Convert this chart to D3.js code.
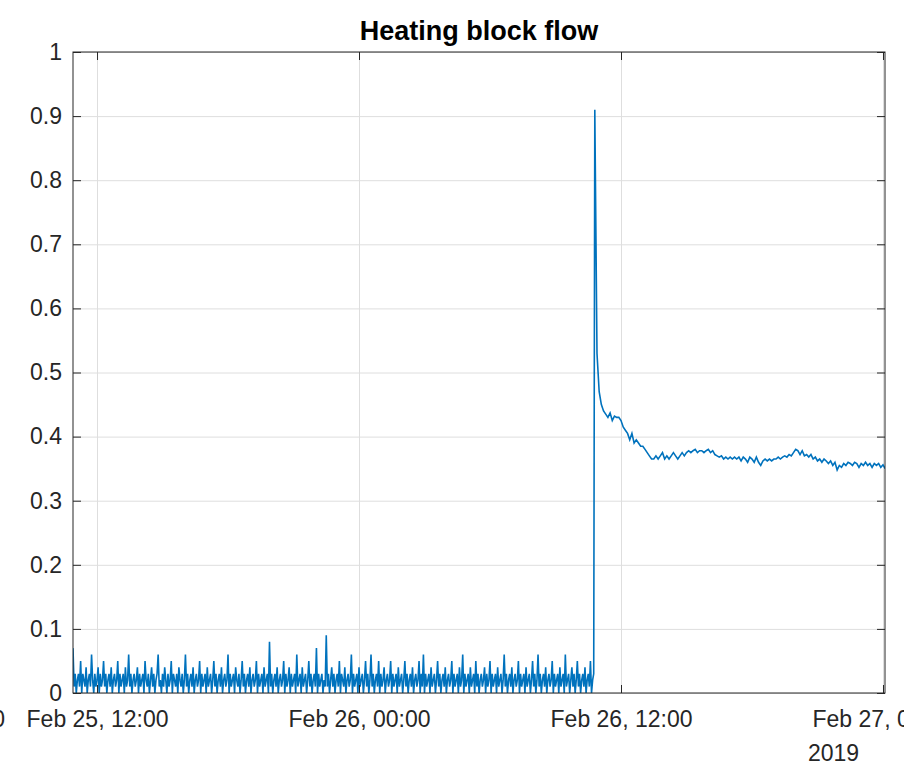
<!DOCTYPE html>
<html>
<head>
<meta charset="utf-8">
<script src="https://cdn.jsdelivr.net/npm/d3@7"></script>
<style>
  body { margin: 0; background: #fff; }
  svg { display: block; font-family: "Liberation Sans", Arial, sans-serif; }
  .tick text { fill: #262626; font-size: 23px; }
  .tick line { stroke: #262626; }
  .grid .tick line { stroke: #dedede; }
</style>
</head>
<body>
<svg width="904" height="778"></svg>
<script>
const width = 904;
const height = 778;
const plotLeft = 73, plotRight = 885, plotTop = 52, plotBottom = 693;

// heater off: a reading every 3 minutes, flow jitters around zero
const idleStart = new Date(2019, 1, 25, 10, 54);
const idleStepMinutes = 3;
const idleFlow = [
  0.07,0.01,0.03,0.00,0.02,0.03,0.01,0.05,0.00,0.03,0.02,0.01,0.04,0.00,0.02,0.03,0.01,0.06,0.02,0.00,
  0.03,0.01,0.02,0.04,0.00,0.03,0.01,0.02,0.05,0.01,0.03,0.00,0.02,0.03,0.01,0.04,0.00,0.02,0.03,0.01,
  0.02,0.05,0.00,0.03,0.01,0.02,0.03,0.00,0.04,0.01,0.02,0.06,0.01,0.03,0.00,0.02,0.03,0.01,0.02,0.04,
  0.00,0.03,0.01,0.02,0.03,0.00,0.05,0.02,0.01,0.03,0.00,0.02,0.04,0.01,0.03,0.00,0.02,0.03,0.06,0.01,
  0.02,0.00,0.03,0.01,0.04,0.02,0.00,0.03,0.01,0.02,0.05,0.00,0.03,0.02,0.01,0.03,0.00,0.04,0.02,0.01,
  0.03,0.00,0.02,0.06,0.01,0.03,0.00,0.02,0.03,0.01,0.04,0.00,0.02,0.03,0.01,0.02,0.05,0.00,0.03,0.01,
  0.02,0.03,0.00,0.04,0.01,0.02,0.03,0.00,0.02,0.05,0.01,0.03,0.00,0.02,0.03,0.01,0.04,0.00,0.02,0.03,
  0.01,0.02,0.06,0.00,0.03,0.01,0.02,0.03,0.00,0.04,0.02,0.01,0.03,0.00,0.02,0.05,0.01,0.03,0.00,0.02,
  0.03,0.01,0.04,0.00,0.02,0.03,0.01,0.02,0.05,0.00,0.03,0.01,0.02,0.03,0.00,0.04,0.01,0.02,0.03,0.00,
  0.08,0.01,0.03,0.00,0.02,0.03,0.01,0.04,0.00,0.02,0.03,0.01,0.02,0.05,0.00,0.03,0.01,0.02,0.04,0.00,
  0.03,0.01,0.02,0.03,0.00,0.06,0.01,0.02,0.03,0.00,0.04,0.01,0.02,0.03,0.00,0.02,0.05,0.01,0.03,0.00,
  0.02,0.03,0.01,0.07,0.00,0.03,0.01,0.02,0.03,0.00,0.02,0.01,0.09,0.01,0.03,0.00,0.02,0.04,0.01,0.03,
  0.00,0.02,0.03,0.01,0.05,0.00,0.03,0.02,0.01,0.04,0.00,0.02,0.03,0.01,0.02,0.06,0.00,0.03,0.01,0.02,
  0.03,0.00,0.04,0.01,0.02,0.03,0.00,0.02,0.05,0.01,0.03,0.00,0.02,0.06,0.01,0.03,0.00,0.02,0.03,0.01,
  0.05,0.00,0.03,0.01,0.02,0.04,0.00,0.02,0.03,0.01,0.02,0.05,0.00,0.03,0.01,0.02,0.03,0.00,0.04,0.01,
  0.02,0.03,0.00,0.02,0.05,0.01,0.03,0.00,0.02,0.03,0.01,0.04,0.00,0.02,0.03,0.01,0.02,0.05,0.00,0.03,
  0.01,0.06,0.00,0.03,0.01,0.02,0.03,0.00,0.04,0.01,0.02,0.03,0.00,0.02,0.05,0.01,0.03,0.00,0.02,0.03,
  0.01,0.04,0.00,0.02,0.03,0.01,0.02,0.05,0.00,0.03,0.01,0.02,0.03,0.00,0.04,0.01,0.02,0.06,0.00,0.03,
  0.01,0.02,0.03,0.00,0.04,0.01,0.02,0.03,0.00,0.05,0.01,0.03,0.00,0.02,0.03,0.01,0.02,0.04,0.00,0.03,
  0.01,0.02,0.05,0.00,0.03,0.01,0.02,0.03,0.00,0.04,0.01,0.02,0.03,0.00,0.02,0.06,0.01,0.03,0.00,0.02,
  0.03,0.01,0.04,0.00,0.02,0.03,0.01,0.02,0.05,0.00,0.03,0.01,0.02,0.03,0.00,0.04,0.01,0.02,0.03,0.00,
  0.02,0.05,0.01,0.03,0.00,0.02,0.06,0.01,0.03,0.00,0.02,0.03,0.01,0.04,0.00,0.02,0.03,0.01,0.02,0.05,
  0.00,0.03,0.01,0.02,0.03,0.00,0.04,0.01,0.02,0.03,0.00,0.06,0.01,0.02,0.03,0.00,0.02,0.04,0.01,0.03,
  0.00,0.02,0.05,0.01,0.03,0.00,0.02,0.03,0.01,0.04,0.00,0.02,0.03,0.01,0.05,0.00,0.02,0.03
];

// heater on: a reading every 6 minutes, spike then settles around 0.36
const activeStart = new Date(2019, 1, 26, 10, 48);
const activeStepMinutes = 6;
const activeFlow = [
  0.91,0.53,0.47,0.45,0.44,0.435,0.43,0.437,0.425,0.432,
  0.43,0.43,0.425,0.415,0.41,0.405,0.395,0.405,0.39,0.395,
  0.39,0.385,0.385,0.38,0.375,0.37,0.365,0.365,0.37,0.365,
  0.37,0.375,0.365,0.37,0.365,0.37,0.375,0.37,0.365,0.37,
  0.375,0.37,0.375,0.378,0.375,0.378,0.38,0.375,0.378,0.378,
  0.375,0.378,0.38,0.375,0.378,0.372,0.37,0.368,0.37,0.365,
  0.368,0.365,0.368,0.365,0.368,0.365,0.368,0.362,0.368,0.365,
  0.36,0.368,0.365,0.36,0.368,0.36,0.355,0.362,0.365,0.362,
  0.365,0.362,0.365,0.365,0.368,0.365,0.368,0.37,0.368,0.372,
  0.37,0.375,0.38,0.378,0.372,0.378,0.37,0.372,0.368,0.372,
  0.365,0.368,0.362,0.365,0.36,0.365,0.362,0.358,0.362,0.355,
  0.36,0.348,0.355,0.352,0.358,0.355,0.36,0.358,0.355,0.36,
  0.358,0.352,0.358,0.355,0.36,0.355,0.358,0.352,0.358,0.355,
  0.358,0.352,0.356,0.35
];

const xTickTimes = [
  new Date(2019, 1, 25, 12), new Date(2019, 1, 26, 0),
  new Date(2019, 1, 26, 12), new Date(2019, 1, 27, 0)
];
const yTicks = [0, 0.1, 0.2, 0.3, 0.4, 0.5, 0.6, 0.7, 0.8, 0.9, 1];

const flow = idleFlow.map((v, i) => ({ t: d3.timeMinute.offset(idleStart, i * idleStepMinutes), v: v }))
    .concat(activeFlow.map((v, i) => ({ t: d3.timeMinute.offset(activeStart, i * activeStepMinutes), v: v })));

const svg = d3.select('svg');

const xScale = d3.scaleTime()
    .domain([idleStart, new Date(2019, 1, 27, 0, 5, 30)])
    .range([plotLeft, plotRight]);
const yScale = d3.scaleLinear()
    .domain([0, 1])
    .range([plotBottom, plotTop]);

const fmt = d3.timeFormat('%b %d, %H:%M');

// grid
svg.append('g')
    .classed('grid', true)
    .attr('transform', 'translate(0,' + plotBottom + ')')
    .call(d3.axisBottom(xScale).tickValues(xTickTimes).tickSize(-(plotBottom - plotTop)).tickFormat(''))
    .call(g => g.select('.domain').remove());
svg.append('g')
    .classed('grid', true)
    .attr('transform', 'translate(' + plotLeft + ',0)')
    .call(d3.axisLeft(yScale).tickValues(yTicks).tickSize(-(plotRight - plotLeft)).tickFormat(''))
    .call(g => g.select('.domain').remove());

svg.append('clipPath')
    .attr('id', 'plot')
  .append('rect')
    .attr('x', plotLeft).attr('y', plotTop)
    .attr('width', plotRight - plotLeft).attr('height', plotBottom - plotTop);

svg.append('path')
    .datum(flow)
    .attr('clip-path', 'url(#plot)')
    .attr('fill', 'none')
    .attr('stroke', '#0072BD')
    .attr('stroke-width', 1.6)
    .attr('d', d3.line().x(d => xScale(d.t)).y(d => yScale(d.v)));

// axes with inward ticks
svg.append('g')
    .attr('transform', 'translate(0,' + plotBottom + ')')
    .call(d3.axisBottom(xScale).tickValues(xTickTimes).tickSize(-8).tickPadding(18).tickFormat(fmt))
    .call(g => g.select('.domain').remove());
svg.append('g')
    .attr('transform', 'translate(0,' + plotTop + ')')
    .call(d3.axisTop(xScale).tickValues(xTickTimes).tickSize(-8).tickFormat(''))
    .call(g => g.select('.domain').remove());
svg.append('g')
    .attr('transform', 'translate(' + plotLeft + ',0)')
    .call(d3.axisLeft(yScale).tickValues(yTicks).tickSize(-8).tickPadding(11).tickFormat(d3.format('')))
    .call(g => g.select('.domain').remove());
svg.append('g')
    .attr('transform', 'translate(' + plotRight + ',0)')
    .call(d3.axisRight(yScale).tickValues(yTicks).tickSize(-8).tickFormat(''))
    .call(g => g.select('.domain').remove());

svg.append('rect')
    .attr('x', plotLeft).attr('y', plotTop)
    .attr('width', plotRight - plotLeft).attr('height', plotBottom - plotTop)
    .attr('fill', 'none')
    .attr('stroke', '#262626')
    .attr('stroke-width', 1);

// year under the last tick label
svg.append('text')
    .text('2019')
    .attr('x', xScale(xTickTimes[3]) - 75)
    .attr('y', 761)
    .attr('font-size', '23px')
    .attr('fill', '#262626');

// edge of the neighbouring label, cut by the frame as in the source
svg.append('text')
    .text('Feb 25, 00:00')
    .attr('x', 5)
    .attr('y', 727)
    .attr('text-anchor', 'end')
    .attr('font-size', '23px')
    .attr('fill', '#262626');

svg.append('text')
    .text('Heating block flow')
    .attr('x', (plotLeft + plotRight) / 2)
    .attr('y', 40)
    .attr('text-anchor', 'middle')
    .attr('font-size', '27px')
    .attr('font-weight', 'bold')
    .attr('fill', '#000');
</script>
</body>
</html>
